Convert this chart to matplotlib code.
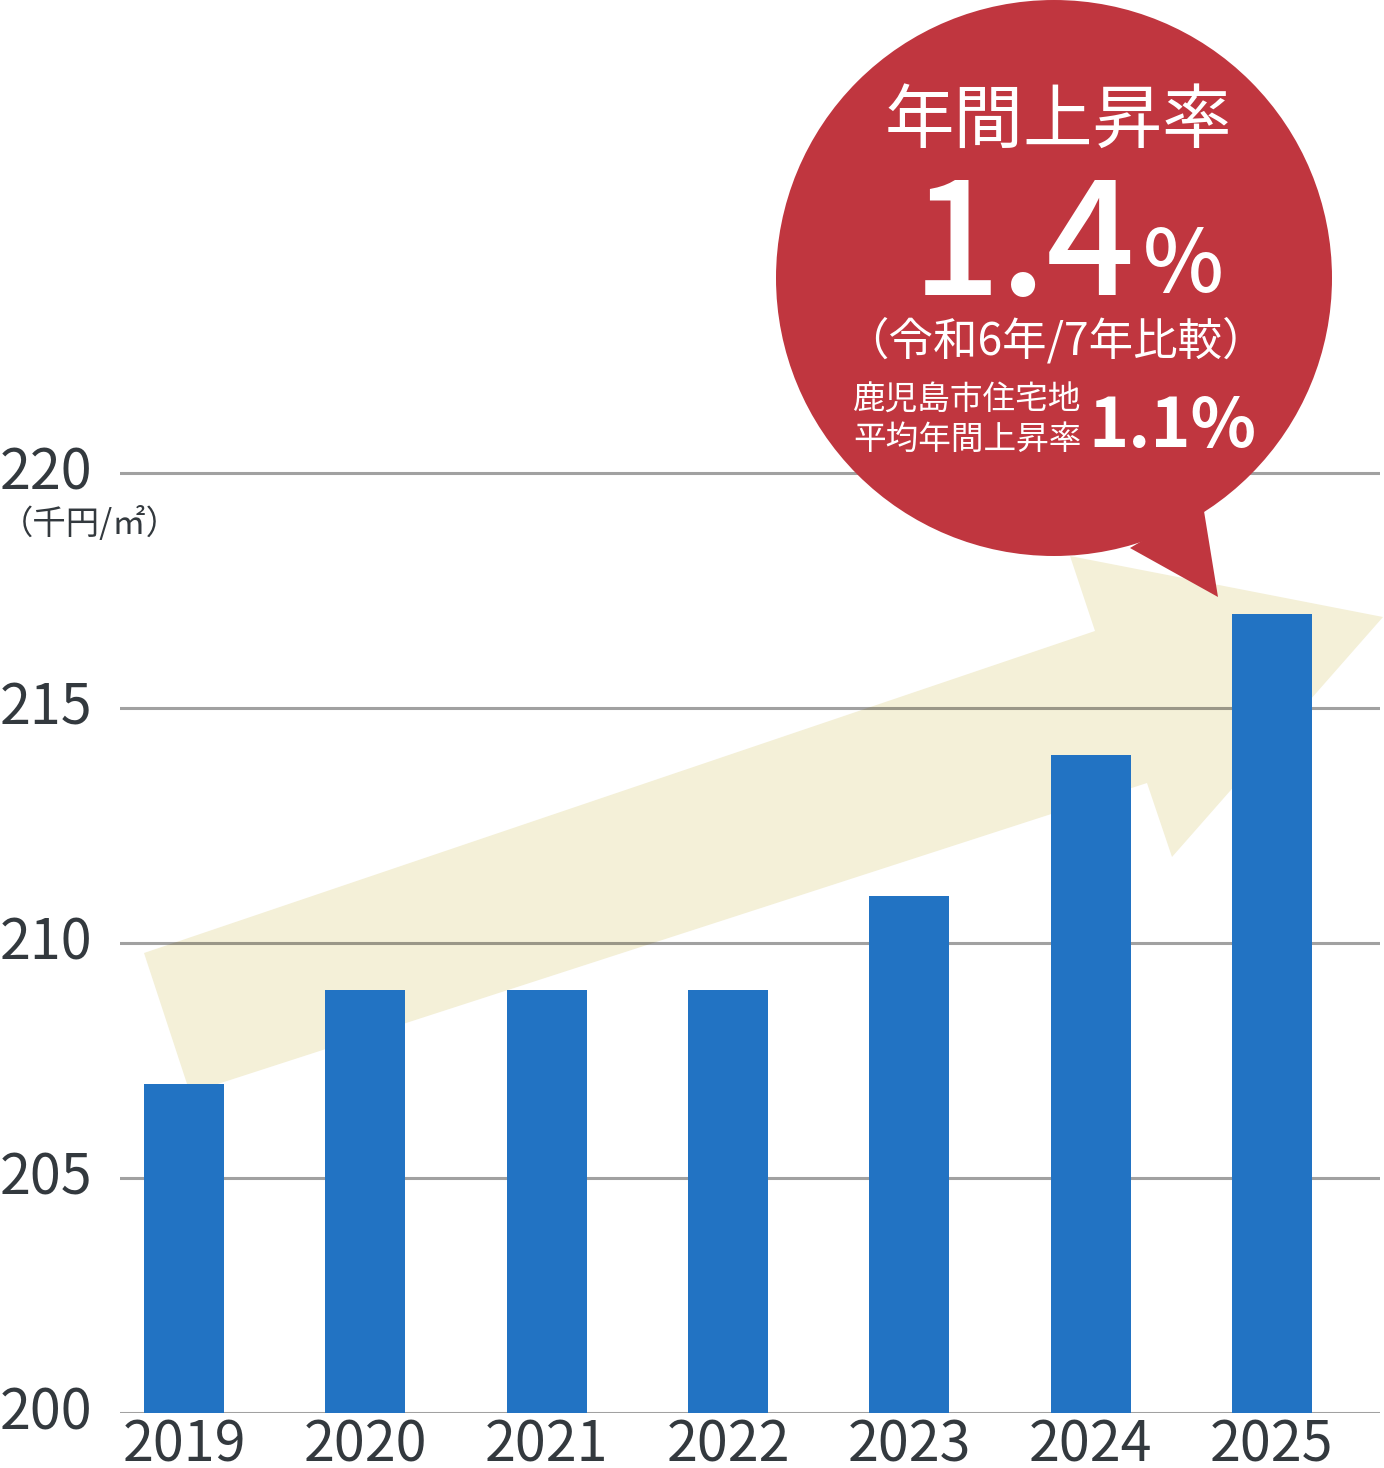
import matplotlib.pyplot as plt
from matplotlib.patches import Polygon, Circle
from matplotlib.transforms import Affine2D, ScaledTranslation

plt.rcParams['font.family'] = ['Noto Sans CJK JP', 'DejaVu Sans']

# データ（千円/㎡）
years = ['2019', '2020', '2021', '2022', '2023', '2024', '2025']
prices = [207, 209, 209, 209, 211, 214, 217]
yticks = [200, 205, 210, 215, 220]

W, H = 1384, 1468
RED = '#C0363F'
CREAM = '#F4F0D8'
BLUE = '#2273C3'
TXT = '#33393E'

fig = plt.figure(figsize=(W / 100, H / 100), dpi=100)
ax = fig.add_axes([120 / W, (H - 1413) / H, 1260 / W, 1413 / H])

# ピクセル座標（左上原点）用の変換
pix = Affine2D().scale(1 / W, -1 / H).translate(0, 1) + fig.transFigure

x = list(range(len(years)))
ax.bar(x, prices, width=0.44, color=BLUE, zorder=2)

for v in yticks:
    ax.axhline(v, color='black', alpha=0.37, lw=2.2, zorder=1)

ax.set_xlim(-0.353, 6.596)
ax.set_ylim(200, 230.06)
ax.set_xticks(x)
ax.set_xticklabels(years, fontsize=40, color=TXT)
ax.set_yticks(yticks)
ax.set_yticklabels([str(v) for v in yticks], fontsize=40, color=TXT)
ax.tick_params(length=0)
ax.tick_params(axis='x', pad=3)
ax.tick_params(axis='y', pad=20)
for s in ax.spines.values():
    s.set_visible(False)

# 縦軸ラベルを少し上へ
up = ScaledTranslation(0, 6 / 100, fig.dpi_scale_trans)
for lab in ax.get_yticklabels():
    lab.set_transform(lab.get_transform() + up)

ax.text(0, 525, '（千円/㎡）', transform=pix, ha='left', va='center',
        fontsize=24, color=TXT)

# 上昇矢印
arrow = Polygon([(144, 953), (1095, 631), (1070, 556), (1383, 617),
                 (1172, 857), (1147, 783), (190, 1093)],
                closed=True, transform=pix, facecolor=CREAM, edgecolor='none',
                zorder=0.5, clip_on=False)
ax.add_patch(arrow)

# 吹き出し
bubble = Circle((1054, 278), 278, transform=pix, facecolor=RED,
                edgecolor='none', zorder=3, clip_on=False)
ax.add_patch(bubble)
tail = Polygon([(1130, 548), (1203, 505), (1218, 597)], closed=True,
               transform=pix, facecolor=RED, edgecolor='none', zorder=3,
               clip_on=False)
ax.add_patch(tail)

ax.text(1058, 122, '年間上昇率', transform=pix, ha='center', va='center',
        fontsize=50, color='white', zorder=4)
ax.text(912, 295, '1.4', transform=pix, ha='left', va='baseline',
        fontsize=112, fontweight='medium', color='white', zorder=4)
ax.text(1224, 292, '%', transform=pix, ha='right', va='baseline',
        fontsize=62, fontweight='medium', color='white', zorder=4)
ax.text(1055, 341, '（令和6年/7年比較）', transform=pix, ha='center',
        va='center', fontsize=32, color='white', zorder=4)
ax.text(853, 401, '鹿児島市住宅地', transform=pix, ha='left', va='center',
        fontsize=23.5, color='white', zorder=4)
ax.text(853, 440, '平均年間上昇率', transform=pix, ha='left', va='center',
        fontsize=23.5, color='white', zorder=4)
ax.text(1256, 447, '1.1%', transform=pix, ha='right', va='baseline',
        fontsize=49, fontweight='bold', color='white', zorder=4)

fig.savefig('out.png', dpi=100)
